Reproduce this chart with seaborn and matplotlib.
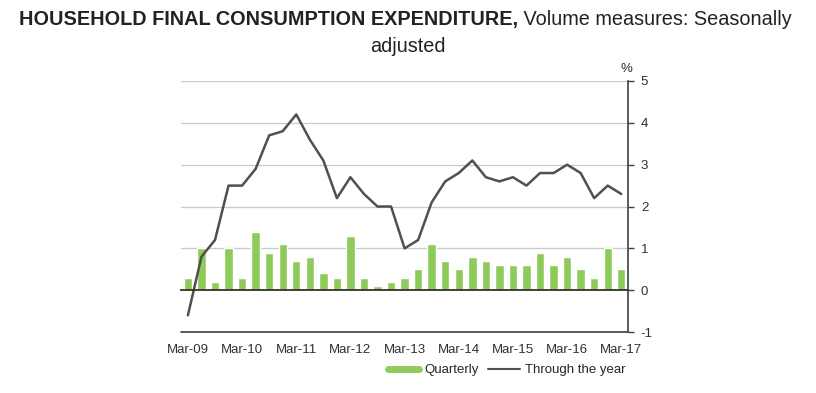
import numpy as np
import pandas as pd
import matplotlib
matplotlib.use("Agg")
import matplotlib.pyplot as plt
from matplotlib.lines import Line2D
import seaborn as sns

# ── DATA ─────────────────────────────────────────────────────
quarters = ["Mar-09", "Jun-09", "Sep-09", "Dec-09",
            "Mar-10", "Jun-10", "Sep-10", "Dec-10",
            "Mar-11", "Jun-11", "Sep-11", "Dec-11",
            "Mar-12", "Jun-12", "Sep-12", "Dec-12",
            "Mar-13", "Jun-13", "Sep-13", "Dec-13",
            "Mar-14", "Jun-14", "Sep-14", "Dec-14",
            "Mar-15", "Jun-15", "Sep-15", "Dec-15",
            "Mar-16", "Jun-16", "Sep-16", "Dec-16",
            "Mar-17"]
quarterly = [0.3, 1.0, 0.2, 1.0, 0.3, 1.4, 0.9, 1.1,
             0.7, 0.8, 0.4, 0.3, 1.3, 0.3, 0.1, 0.2,
             0.3, 0.5, 1.1, 0.7, 0.5, 0.8, 0.7, 0.6,
             0.6, 0.6, 0.9, 0.6, 0.8, 0.5, 0.3, 1.0,
             0.5]
through_year = [-0.6, 0.8, 1.2, 2.5, 2.5, 2.9, 3.7, 3.8,
                4.2, 3.6, 3.1, 2.2, 2.7, 2.3, 2.0, 2.0,
                1.0, 1.2, 2.1, 2.6, 2.8, 3.1, 2.7, 2.6,
                2.7, 2.5, 2.8, 2.8, 3.0, 2.8, 2.2, 2.5,
                2.3]
y_ticks = [-1, 0, 1, 2, 3, 4, 5]

df = pd.DataFrame({"pos": np.arange(len(quarters)), "quarter": quarters,
                   "quarterly": quarterly, "through": through_year})

GREEN = "#8FCB5B"
LINE = "#505050"

sns.set_style("white")
plt.rcParams["font.family"] = ["Liberation Sans", "DejaVu Sans"]

fig = plt.figure(figsize=(8.16, 3.93), dpi=100)
ax = fig.add_axes([0.222, 0.155, 0.548, 0.639])

# bars + line
sns.barplot(data=df, x="pos", y="quarterly", native_scale=True, color=GREEN,
            width=0.62, saturation=1, ax=ax, zorder=2)
sns.lineplot(data=df, x="pos", y="through", color=LINE, linewidth=1.8,
             ax=ax, zorder=3)

ax.set_xlim(-0.45, len(quarters) - 1 + 0.52)
ax.set_ylim(-1, 5)

# gridlines at 1..5, dark zero line, frame at -1
for y in y_ticks[2:]:
    ax.axhline(y, color="#c9c9c9", linewidth=0.9, zorder=0)
ax.axhline(-1, color="#404040", linewidth=1.2, zorder=1, clip_on=False)

for s in ["left", "top"]:
    ax.spines[s].set_visible(False)
ax.spines["right"].set_color("#404040")
ax.spines["right"].set_linewidth(1.2)
ax.spines["bottom"].set_position(("data", 0))
ax.spines["bottom"].set_color("#303030")
ax.spines["bottom"].set_linewidth(1.3)
ax.spines["bottom"].set_zorder(4)

# y axis on the right
ax.yaxis.tick_right()
ax.set_yticks(y_ticks)
ax.set_yticklabels([str(v) for v in y_ticks], fontsize=9.5, color="#303030")
ax.tick_params(axis="y", length=4, width=1, color="#404040", pad=5, direction="out")
ax.set_ylabel("")
ax.set_xlabel("")

# year-boundary ticks on the zero line, Mar labels below the frame
ax.set_xticks(np.arange(-0.5, len(quarters), 4))
ax.set_xticklabels([])
ax.tick_params(axis="x", which="major", length=4, width=1.2, color="#303030",
               direction="out")
ax.set_xticks(df["pos"][::4], minor=True)
ax.set_xticklabels(df["quarter"][::4], minor=True, fontsize=9.5, color="#303030")
ax.tick_params(axis="x", which="minor", length=0, pad=39)

fig.text(0.768, 0.808, "%", fontsize=9.5, color="#303030", ha="center", va="bottom")

# title: bold part + regular part, centred
fig.canvas.draw()
r = fig.canvas.get_renderer()
t1 = fig.text(0, 0.951, "HOUSEHOLD FINAL CONSUMPTION EXPENDITURE,", fontsize=14.3,
              fontweight="bold", color="#222222", va="center")
t2 = fig.text(0, 0.951, " Volume measures: Seasonally", fontsize=14.3,
              color="#222222", va="center")
w1 = t1.get_window_extent(r).width / fig.bbox.width
w2 = t2.get_window_extent(r).width / fig.bbox.width
x0 = 0.497 - (w1 + w2) / 2
t1.set_x(x0)
t2.set_x(x0 + w1)
fig.text(0.5, 0.882, "adjusted", fontsize=14.3, color="#222222",
         ha="center", va="center")

handles = [Line2D([], [], color=GREEN, linewidth=5),
           Line2D([], [], color=LINE, linewidth=1.5)]
fig.legend(handles, ["Quarterly", "Through the year"], loc="center",
           bbox_to_anchor=(0.621, 0.058), ncol=2, frameon=False, fontsize=9.5,
           handlelength=2.4, handletextpad=0.4, columnspacing=0.7)

plt.savefig("out.png", dpi=100)
